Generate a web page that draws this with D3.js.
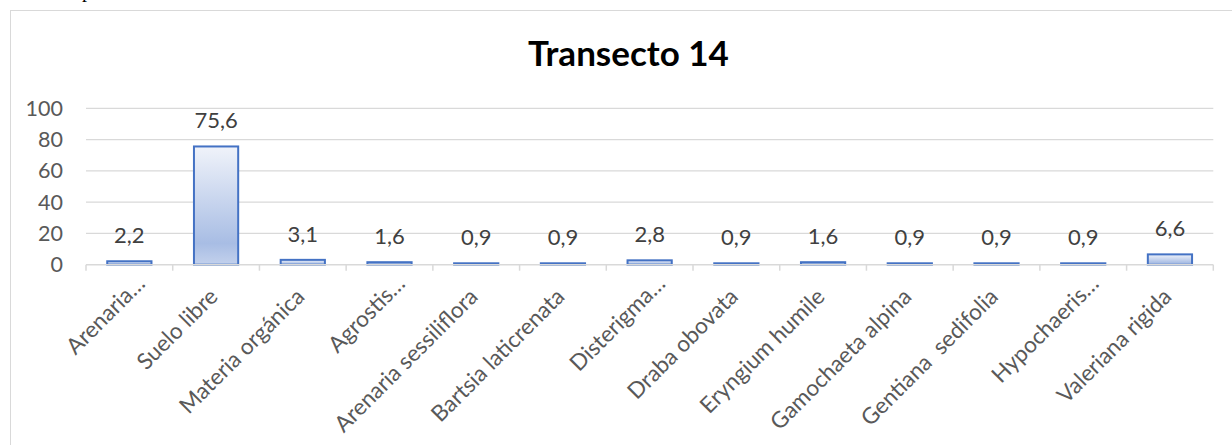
<!DOCTYPE html>
<html>
<head>
<meta charset="utf-8">
<script src="https://cdn.jsdelivr.net/npm/d3@7"></script>
<style>
  html, body { margin: 0; padding: 0; background: #fff; }
  svg { display: block; }
</style>
</head>
<body>
<svg id="chart" width="1232" height="445"></svg>
<script>
// ---- data ----
const chartTitle = "Transecto 14";
const categories = [
  "Arenaria…", "Suelo libre", "Materia orgánica", "Agrostis…",
  "Arenaria sessiliflora", "Bartsia laticrenata", "Disterigma…",
  "Draba obovata", "Eryngium humile", "Gamochaeta alpina",
  "Gentiana  sedifolia", "Hypochaeris…", "Valeriana rigida"
];
const values = [2.2, 75.6, 3.1, 1.6, 0.9, 0.9, 2.8, 0.9, 1.6, 0.9, 0.9, 0.9, 6.6];
const valueLabels = ["2,2", "75,6", "3,1", "1,6", "0,9", "0,9", "2,8", "0,9", "1,6", "0,9", "0,9", "0,9", "6,6"];
const yTicks = [0, 20, 40, 60, 80, 100];

// ---- layout ----
const svg = d3.select("#chart");
const font = "Lato, 'Open Sans', sans-serif";
const plot = { left: 86, right: 1213.3, top: 108.3, bottom: 264.7 };

// fragment of document text above the chart
svg.append("text").attr("x", 82).attr("y", -3)
  .attr("font-family", "'Liberation Serif', serif").attr("font-size", 20)
  .attr("fill", "#000").text("p");

// chart area border
svg.append("rect")
  .attr("x", 10.5).attr("y", 10.5).attr("width", 1240).attr("height", 460)
  .attr("fill", "#fff").attr("stroke", "#d9d9d9").attr("stroke-width", 1);

const x = d3.scaleBand().domain(categories).range([plot.left, plot.right]).paddingInner(0).paddingOuter(0);
const y = d3.scaleLinear().domain([0, 100]).range([plot.bottom, plot.top]);

// gradient
const defs = svg.append("defs");
const grad = defs.append("linearGradient").attr("id", "barGrad")
  .attr("x1", 0).attr("y1", 0).attr("x2", 0).attr("y2", 1);
grad.append("stop").attr("offset", "0%").attr("stop-color", "#f0f3fa");
grad.append("stop").attr("offset", "82%").attr("stop-color", "#a8bde4");
grad.append("stop").attr("offset", "100%").attr("stop-color", "#c3d1ec");

// title
svg.append("text")
  .attr("x", 628.5).attr("y", 65.7)
  .attr("text-anchor", "middle")
  .attr("font-family", font).attr("font-weight", "bold").attr("font-size", 35)
  .attr("fill", "#000").text(chartTitle);

// gridlines
svg.append("g").selectAll("line").data(yTicks.filter(d => d > 0)).join("line")
  .attr("x1", plot.left).attr("x2", plot.right)
  .attr("y1", d => y(d)).attr("y2", d => y(d))
  .attr("stroke", "#d9d9d9").attr("stroke-width", 1.3);

// y axis labels
const yAxis = d3.axisLeft(y).tickValues(yTicks).tickSize(0).tickPadding(23);
const gy = svg.append("g").attr("transform", `translate(${plot.left},0)`).call(yAxis);
gy.select(".domain").remove();
gy.selectAll("text").attr("font-family", font).attr("font-size", 21.5).attr("fill", "#595959");

// bars
const barW = x.bandwidth() * 0.51;
svg.append("g").selectAll("rect").data(values).join("rect")
  .attr("x", (d, i) => x(categories[i]) + (x.bandwidth() - barW) / 2)
  .attr("y", d => y(d))
  .attr("width", barW)
  .attr("height", d => y(0) - y(d))
  .attr("fill", "url(#barGrad)")
  .attr("stroke", "#4472c4").attr("stroke-width", 2);

// x axis
const xAxis = d3.axisBottom(x).tickSize(0).tickFormat("");
const gx = svg.append("g").attr("transform", `translate(0,${plot.bottom})`).call(xAxis);
gx.select(".domain").attr("stroke", "#d9d9d9").attr("stroke-width", 1.5).attr("d", `M${plot.left},0H${plot.right}`);
gx.selectAll(".tick").remove();
// boundary tick marks
const bounds = categories.map(c => x(c)).concat([plot.right]);
gx.selectAll("line.bt").data(bounds).join("line").attr("class", "bt")
  .attr("x1", d => d).attr("x2", d => d).attr("y1", 0).attr("y2", 6)
  .attr("stroke", "#d9d9d9").attr("stroke-width", 1.5);

// category labels
svg.append("g").selectAll("text").data(categories).join("text")
  .attr("transform", d => {
    const cx = x(d) + x.bandwidth() / 2;
    const trunc = d.endsWith("…");
    const ex = trunc ? cx + 17 : cx + 3;
    const ey = trunc ? 285 : 298;
    return `translate(${ex},${ey}) rotate(-45)`;
  })
  .attr("text-anchor", "end")
  .attr("font-family", font).attr("font-size", 22.5).attr("fill", "#595959")
  .style("white-space", "pre")
  .text(d => d);

// value labels
svg.append("g").selectAll("text").data(values).join("text")
  .attr("x", (d, i) => x(categories[i]) + x.bandwidth() / 2)
  .attr("y", d => y(d) - 18)
  .attr("text-anchor", "middle")
  .attr("font-family", font).attr("font-size", 22).attr("fill", "#404040")
  .text((d, i) => valueLabels[i]);
</script>
</body>
</html>
